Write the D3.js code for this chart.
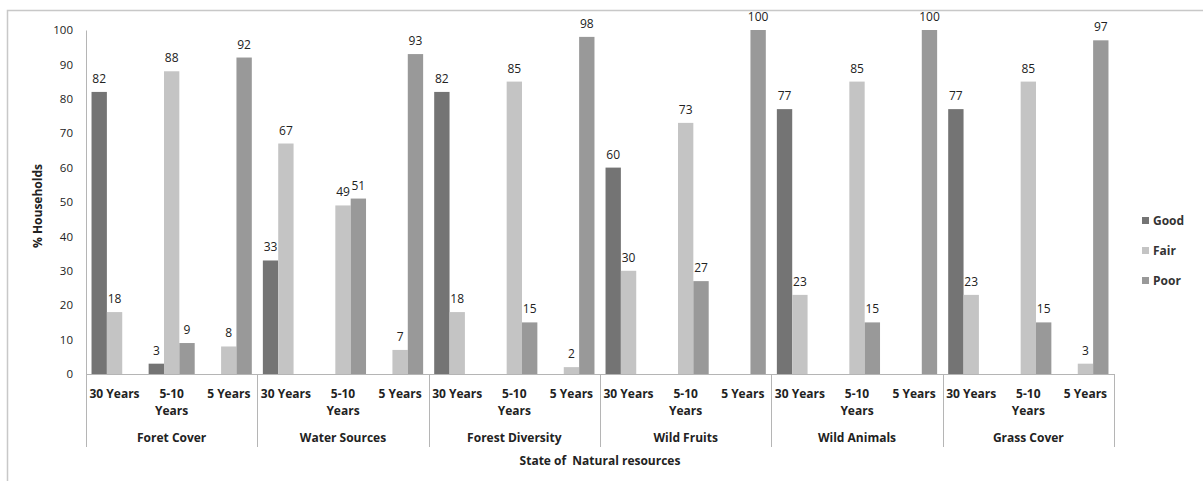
<!DOCTYPE html>
<html>
<head>
<meta charset="utf-8">
<script src="https://cdn.jsdelivr.net/npm/d3@7"></script>
<style>
  html, body { margin: 0; padding: 0; background: #fff; }
  svg { display: block; font-family: "Open Sans", sans-serif; }
</style>
</head>
<body>
<svg id="chart" width="1203" height="481"></svg>
<script>
const groups = ["Foret Cover", "Water Sources", "Forest Diversity", "Wild Fruits", "Wild Animals", "Grass Cover"];
const periods = ["30 Years", "5-10 Years", "5 Years"];
const periodLines = [["30 Years"], ["5-10", "Years"], ["5 Years"]];
const seriesNames = ["Good", "Fair", "Poor"];
const seriesColors = ["#747474", "#c4c4c4", "#999999"];
// values per group, per period: [Good, Fair, Poor]; null = no bar
const foretCover      = [[82, 18, null], [3, 88, 9],     [null, 8, 92]];
const waterSources    = [[33, 67, null], [null, 49, 51], [null, 7, 93]];
const forestDiversity = [[82, 18, null], [null, 85, 15], [null, 2, 98]];
const wildFruits      = [[60, 30, null], [null, 73, 27], [null, null, 100]];
const wildAnimals     = [[77, 23, null], [null, 85, 15], [null, null, 100]];
const grassCover      = [[77, 23, null], [null, 85, 15], [null, 3, 97]];
const groupValues = [foretCover, waterSources, forestDiversity, wildFruits, wildAnimals, grassCover];
const yTicks = [0, 10, 20, 30, 40, 50, 60, 70, 80, 90, 100];
const yTitle = "% Households";
const xTitle = "State of  Natural resources";

(function () {
const svg = d3.select("#chart");
const pLeft = 86, pRight = 1114, pTop = 30, pBottom = 374;

// outer frame
svg.append("rect").attr("x", 7.5).attr("y", 10.5).attr("width", 1210).attr("height", 490)
  .attr("fill", "none").attr("stroke", "#c8c8c8").attr("stroke-width", 1.5);

const y = d3.scaleLinear().domain([0, 100]).range([pBottom, pTop]);
const x0 = d3.scaleBand().domain(groups).range([pLeft, pRight]);
const x1 = d3.scaleBand().domain(periods).range([0, x0.bandwidth()]);
const x2 = d3.scaleBand().domain(seriesNames).range([0, x1.bandwidth()]).paddingInner(0).paddingOuter(0.36);
const color = d3.scaleOrdinal().domain(seriesNames).range(seriesColors);

// y axis
const yAxis = d3.axisLeft(y).tickValues(yTicks).tickSize(0).tickPadding(13);
const gy = svg.append("g").attr("transform", `translate(${pLeft},0)`).call(yAxis);
gy.select(".domain").attr("stroke", "#b5b5b5");
gy.selectAll("text").attr("font-size", 11.5).attr("fill", "#222").attr("font-family", "Open Sans");

// bars
const data = [];
groups.forEach((g, gi) => periods.forEach((p, pi) => seriesNames.forEach((s, si) => {
  const v = groupValues[gi][pi][si];
  if (v !== null) data.push({ g, p, s, v });
})));

svg.append("g").selectAll("rect").data(data).join("rect")
  .attr("x", d => x0(d.g) + x1(d.p) + x2(d.s))
  .attr("y", d => y(d.v))
  .attr("width", x2.bandwidth())
  .attr("height", d => y(0) - y(d.v))
  .attr("fill", d => color(d.s));

svg.append("g").selectAll("text").data(data).join("text")
  .attr("x", d => x0(d.g) + x1(d.p) + x2(d.s) + x2.bandwidth() / 2)
  .attr("y", d => y(d.v) - 9)
  .attr("text-anchor", "middle")
  .attr("font-size", 12).attr("fill", "#222")
  .text(d => d.v);

// x axis line
svg.append("line").attr("x1", pLeft).attr("x2", pRight).attr("y1", pBottom + 0.5).attr("y2", pBottom + 0.5)
  .attr("stroke", "#b5b5b5");

// group separators
const seps = groups.map(g => x0(g)).concat([pRight]);
svg.append("g").selectAll("line").data(seps).join("line")
  .attr("x1", d => Math.round(d) + 0.5).attr("x2", d => Math.round(d) + 0.5)
  .attr("y1", pBottom).attr("y2", 447)
  .attr("stroke", "#b5b5b5");

// period labels
const pl = svg.append("g").attr("font-size", 12).attr("font-weight", "bold").attr("fill", "#222");
groups.forEach(g => periods.forEach((p, pi) => {
  const cx = x0(g) + x1(p) + x1.bandwidth() / 2;
  const t = pl.append("text").attr("x", cx).attr("y", 398).attr("text-anchor", "middle");
  periodLines[pi].forEach((ln, li) => {
    t.append("tspan").attr("x", cx).attr("dy", li === 0 ? 0 : 17).text(ln);
  });
}));

// group labels
svg.append("g").selectAll("text").data(groups).join("text")
  .attr("x", d => x0(d) + x0.bandwidth() / 2).attr("y", 442)
  .attr("text-anchor", "middle").attr("font-size", 12).attr("font-weight", "bold").attr("fill", "#222")
  .text(d => d);

// axis titles
svg.append("text").attr("x", (pLeft + pRight) / 2).attr("y", 465)
  .attr("text-anchor", "middle").attr("font-size", 12).attr("font-weight", "bold").attr("fill", "#222")
  .style("white-space", "pre")
  .text(xTitle);
svg.append("text").attr("transform", `translate(42,${(pTop + pBottom) / 2 + 4}) rotate(-90)`)
  .attr("text-anchor", "middle").attr("font-size", 12).attr("font-weight", "bold").attr("fill", "#222")
  .text(yTitle);

// legend
const lg = svg.append("g");
seriesNames.forEach((s, i) => {
  const yy = 221 + i * 30;
  lg.append("rect").attr("x", 1142).attr("y", yy - 4).attr("width", 7).attr("height", 7).attr("fill", color(s));
  lg.append("text").attr("x", 1153).attr("y", yy + 4).attr("font-size", 12).attr("font-weight", "bold")
    .attr("fill", "#333").text(s);
});
})();
</script>
</body>
</html>
